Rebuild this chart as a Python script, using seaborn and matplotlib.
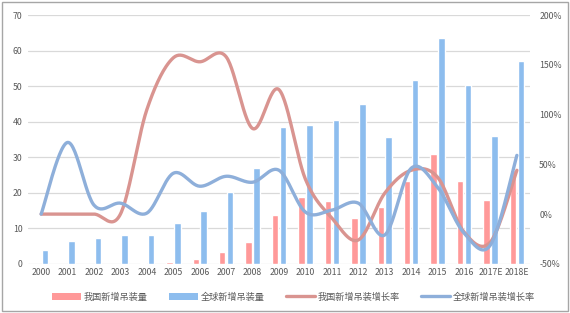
import numpy as np
import pandas as pd
import matplotlib
matplotlib.use("Agg")
import matplotlib.pyplot as plt
from matplotlib.patches import Patch, Rectangle
from matplotlib.lines import Line2D
import seaborn as sns

years = ["2000", "2001", "2002", "2003", "2004", "2005", "2006", "2007", "2008", "2009",
         "2010", "2011", "2012", "2013", "2014", "2015", "2016", "2017E", "2018E"]
china_install = [0, 0, 0, 0, 0.2, 0.5, 1.3, 3.3, 6.2, 13.8,
                 18.9, 17.6, 12.9, 16.1, 23.2, 30.8, 23.3, 18.1, 26.3]
global_install = [3.8, 6.5, 7.3, 8.1, 8.2, 11.5, 14.8, 20.3, 26.9, 38.4,
                  39.1, 40.6, 45.1, 35.8, 51.8, 63.4, 50.3, 36.0, 57.0]
china_growth = [0, 0, 0, 0, 105, 157, 153, 158, 86, 125,
                35, -4, -26, 21, 44, 37, -18, -28, 44]
global_growth = [0, 72, 9, 11, 1, 41, 28, 38, 32, 44,
                 2, 4, 11, -21, 46, 27, -19, -31, 59]

name_cn_bar = "我国新增吊装量"
name_gl_bar = "全球新增吊装量"
name_cn_line = "我国新增吊装增长率"
name_gl_line = "全球新增吊装增长率"

left_ticks = [0, 10, 20, 30, 40, 50, 60, 70]
right_ticks = [-50, 0, 50, 100, 150, 200]

sns.set_theme(style="white")
plt.rcParams['font.family'] = ['Noto Sans CJK SC', 'DejaVu Sans']

c_red_bar = "#FF9999"
c_blue_bar = "#8DBDEE"
c_red_line = "#D99490"
c_blue_line = "#8EAFDA"
c_text = "#595959"

df = pd.DataFrame({
    "year": years * 2,
    "value": china_install + global_install,
    "series": [name_cn_bar] * len(years) + [name_gl_bar] * len(years),
})

fig = plt.figure(figsize=(5.70, 3.13), dpi=100)
ax = fig.add_axes([0.049, 0.157, 0.881, 0.795])
sns.barplot(data=df, x="year", y="value", hue="series",
            hue_order=[name_cn_bar, name_gl_bar],
            palette={name_cn_bar: c_red_bar, name_gl_bar: c_blue_bar},
            saturation=1, width=0.6, gap=0.18, errorbar=None, legend=False,
            ax=ax, zorder=2)
ax.set_xlim(-0.5, len(years) - 0.5)
ax.set_ylim(0, 70)
ax.set_yticks(left_ticks)
ax.set_xlabel("")
ax.set_ylabel("")
ax.grid(axis="y", color="#D9D9D9", linewidth=0.9, zorder=0)
ax.set_axisbelow(True)
for s in ax.spines.values():
    s.set_visible(False)
ax.tick_params(axis="both", length=0, labelsize=6.3, colors=c_text)
ax.tick_params(axis="y", pad=4)
ax.tick_params(axis="x", pad=3)

ax2 = ax.twinx()
ax2.set_ylim(-50, 200)
ax2.set_yticks(right_ticks)
ax2.set_yticklabels([f"{t}%" for t in right_ticks])
ax2.grid(False)
for s in ax2.spines.values():
    s.set_visible(False)
ax2.tick_params(axis="y", length=0, labelsize=6.3, colors=c_text, pad=6.5)


def smooth(vals, n=30):
    p = np.asarray(vals, dtype=float)
    x = np.arange(len(p), dtype=float)
    pe = np.concatenate([[p[0]], p, [p[-1]]])
    xe = np.concatenate([[x[0]], x, [x[-1]]])
    xs, ys = [], []
    t = np.linspace(0, 1, n)
    for i in range(len(p) - 1):
        p0, p1, p2, p3 = pe[i], pe[i + 1], pe[i + 2], pe[i + 3]
        x0, x1, x2, x3 = xe[i], xe[i + 1], xe[i + 2], xe[i + 3]
        c1y = p1 + (p2 - p0) / 6
        c2y = p2 - (p3 - p1) / 6
        c1x = x1 + (x2 - x0) / 6
        c2x = x2 - (x3 - x1) / 6
        b0 = (1 - t) ** 3
        b1 = 3 * (1 - t) ** 2 * t
        b2 = 3 * (1 - t) * t ** 2
        b3 = t ** 3
        xs.append(b0 * x1 + b1 * c1x + b2 * c2x + b3 * x2)
        ys.append(b0 * p1 + b1 * c1y + b2 * c2y + b3 * p2)
    return np.concatenate(xs), np.concatenate(ys)


xr, yr = smooth(china_growth)
xb, yb = smooth(global_growth)
ax2.plot(xr, yr, color=c_red_line, lw=2.4, solid_capstyle="round", zorder=3)
ax2.plot(xb, yb, color=c_blue_line, lw=2.4, solid_capstyle="round", zorder=4)

handles = [
    Patch(facecolor=c_red_bar, edgecolor="none", label=name_cn_bar),
    Patch(facecolor=c_blue_bar, edgecolor="none", label=name_gl_bar),
    Line2D([], [], color=c_red_line, lw=2.4, label=name_cn_line),
    Line2D([], [], color=c_blue_line, lw=2.4, label=name_gl_line),
]
leg = fig.legend(handles=handles, loc="center", bbox_to_anchor=(0.515, 0.051),
                 ncol=4, frameon=False, fontsize=6.6, handlelength=3.2,
                 handletextpad=0.3, columnspacing=2.3, borderaxespad=0)
for t in leg.get_texts():
    t.set_color(c_text)

fig.patches.append(Rectangle((2 / 570, 2 / 313), 566 / 570, 309 / 313,
                             transform=fig.transFigure, fill=False,
                             edgecolor="#A6A6A6", linewidth=1.0))

fig.savefig("out.png", dpi=100)
